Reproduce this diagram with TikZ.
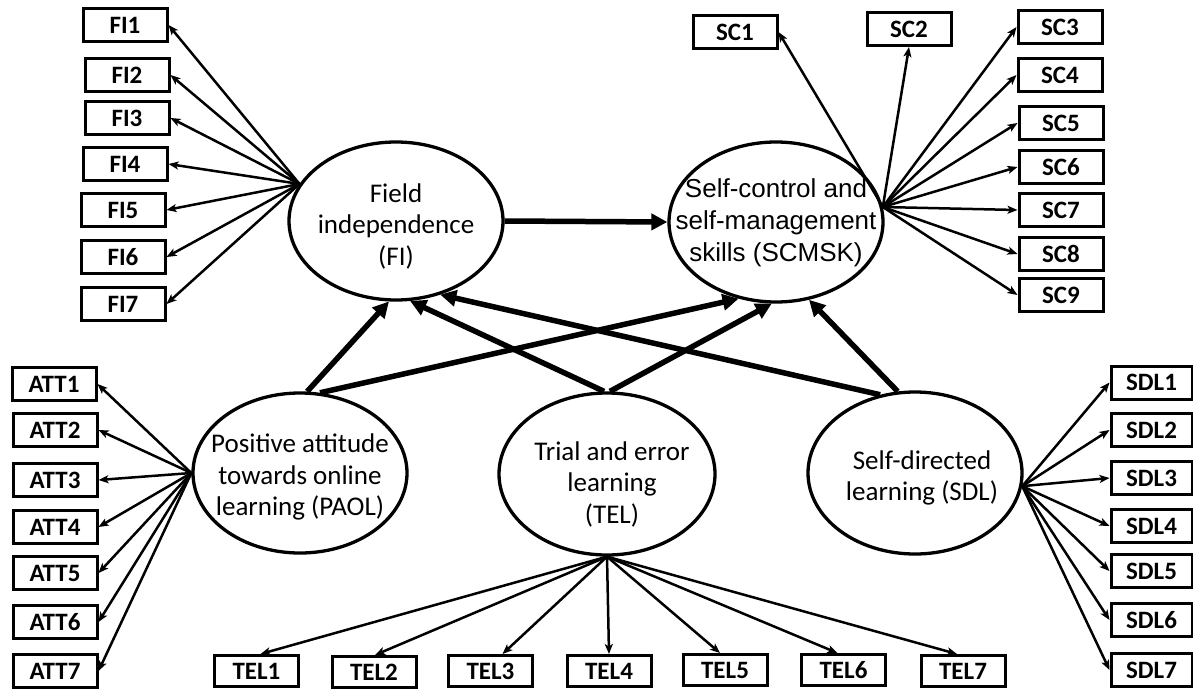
\documentclass[tikz,border=0pt]{standalone}
\usepackage{fontspec}
\setmainfont{Carlito}
\newfontfamily\arialf{Liberation Sans}
\usetikzlibrary{arrows.meta,shapes.geometric}
\begin{document}
\begin{tikzpicture}[x=1pt,y=-1pt,
  box/.style={draw,line width=3pt,minimum width=84pt,minimum height=33pt,inner sep=0pt,font=\fontsize{25}{28}\selectfont\bfseries},
  latent/.style={draw,fill=white,ellipse,line width=3.3pt,inner sep=0pt,minimum width=214pt,minimum height=158pt},
  lt/.style={align=center,inner sep=0pt,font=\fontsize{27}{31.5}\selectfont},
  ldarrow/.style={line width=2.5pt,-{Stealth[length=10pt,width=8pt,inset=2.5pt]}},
  structarrow/.style={line width=5.5pt,-{Triangle[length=16pt,width=16pt]}}]
\fill[white] (0,0) rectangle (1193,688);
\useasboundingbox (0,0) rectangle (1193,688);
% latent variables
\node[latent] (FI) at (396,221) {};
\node[latent,minimum height=160pt] (SC) at (776,222) {};
\node[latent,minimum height=160pt] (PAOL) at (300,473) {};
\node[latent,minimum width=216pt,minimum height=162pt] (TEL) at (607,474) {};
\node[latent,minimum height=162pt] (SDL) at (915,473) {};
\node[lt] (FIt) at (396,226) {Field\\independence\\(FI)};
\node[lt,font=\arialf\fontsize{26}{32}\selectfont] (SCt) at (776,223) {Self-control and\\self-management\\skills (SCMSK)};
\node[lt] (PAOLt) at (300,477) {Positive attitude\\towards online\\learning (PAOL)};
\node[lt] (TELt) at (612,484) {Trial and error\\learning\\(TEL)};
\node[lt] (SDLt) at (922,478) {Self-directed\\learning (SDL)};
% FI indicators
\node[box] (FI1) at (125,25) {FI1};
\node[box] (FI2) at (127,75) {FI2};
\node[box] (FI3) at (127,118) {FI3};
\node[box] (FI4) at (125,164) {FI4};
\node[box] (FI5) at (123,210) {FI5};
\node[box] (FI6) at (123,257) {FI6};
\node[box] (FI7) at (123,304) {FI7};
% SC indicators
\node[box] (SC1) at (735,32) {SC1};
\node[box] (SC2) at (909,29) {SC2};
\node[box] (SC3) at (1060,27) {SC3};
\node[box] (SC4) at (1060,75) {SC4};
\node[box] (SC5) at (1061,123) {SC5};
\node[box] (SC6) at (1061,167) {SC6};
\node[box] (SC7) at (1061,210) {SC7};
\node[box] (SC8) at (1061,254) {SC8};
\node[box] (SC9) at (1061,295) {SC9};
% ATT indicators
\node[box] (ATT1) at (54,384) {ATT1};
\node[box] (ATT2) at (55,430) {ATT2};
\node[box] (ATT3) at (55,480) {ATT3};
\node[box] (ATT4) at (55,527) {ATT4};
\node[box] (ATT5) at (55,573) {ATT5};
\node[box] (ATT6) at (55,622) {ATT6};
\node[box] (ATT7) at (55,671) {ATT7};
% SDL indicators
\node[box,minimum width=81pt] (SDL1) at (1151.5,382.5) {SDL1};
\node[box,minimum width=81pt] (SDL2) at (1151.5,430) {SDL2};
\node[box,minimum width=81pt] (SDL3) at (1151.5,478) {SDL3};
\node[box,minimum width=81pt] (SDL4) at (1151.5,526) {SDL4};
\node[box,minimum width=81pt] (SDL5) at (1151.5,571) {SDL5};
\node[box,minimum width=81pt] (SDL6) at (1151.5,620) {SDL6};
\node[box,minimum width=81pt] (SDL7) at (1151.5,670) {SDL7};
% TEL indicators
\node[box,minimum height=31pt] (TEL1) at (256.5,671) {TEL1};
\node[box,minimum height=31pt] (TEL2) at (374,672) {TEL2};
\node[box,minimum height=31pt] (TEL3) at (490.5,671) {TEL3};
\node[box,minimum height=31pt] (TEL4) at (609,671) {TEL4};
\node[box,minimum height=31pt] (TEL5) at (725,670) {TEL5};
\node[box,minimum height=31pt] (TEL6) at (843.5,670) {TEL6};
\node[box,minimum height=31pt] (TEL7) at (963,671) {TEL7};
% loadings
\foreach \i in {1,...,7} \draw[ldarrow] (FI.159) -- (FI\i.east);
\draw[ldarrow] (SC.8) -- (SC1.east);
\draw[ldarrow] (SC.8) -- (SC2.south);
\foreach \i in {3,...,9} \draw[ldarrow] (SC.8) -- (SC\i.west);
\foreach \i in {1,...,7} \draw[ldarrow] (PAOL.west) -- (ATT\i.east);
\foreach \i in {1,...,7} \draw[ldarrow] (SDL.-7) -- (SDL\i.west);
\foreach \i/\s in {1/4,2/1,3/12,4/0,5/-5,6/-6,7/-6}
  \draw[ldarrow] (TEL.south) -- ([xshift=\s pt]TEL\i.north);
% structural paths
\draw[structarrow] (FI.east) -- (SC.west);
\draw[structarrow] (PAOL.85) -- (FI.-95);
\draw[structarrow] (PAOL.76) -- (SC.-116);
\draw[structarrow] (TEL.92) -- (FI.-80);
\draw[structarrow] (TEL.88) -- (SC.-93);
\draw[structarrow] (SDL.114) -- (FI.-59);
\draw[structarrow] (SDL.102) -- (SC.-67);
\end{tikzpicture}
\end{document}
